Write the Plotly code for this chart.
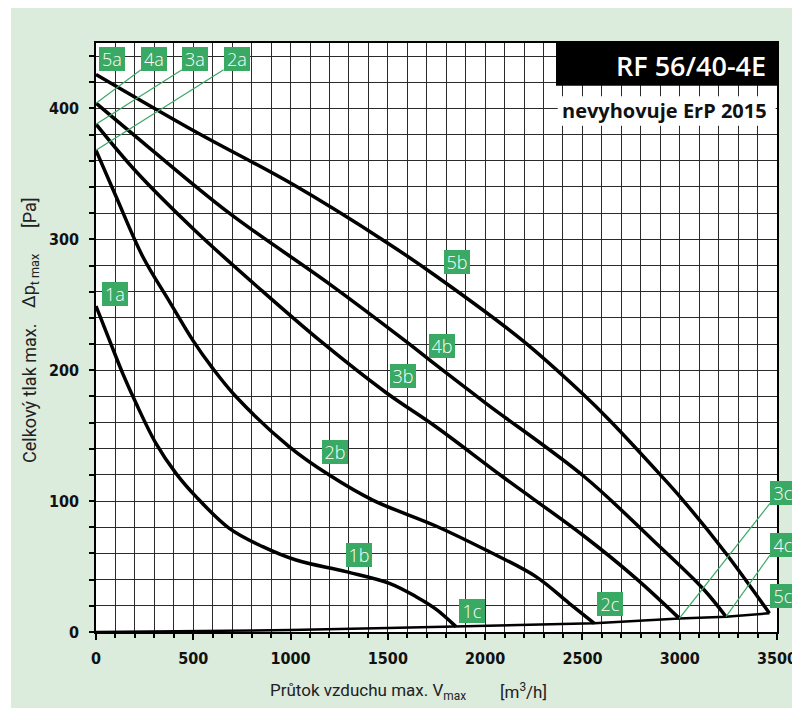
import plotly.graph_objects as go

# ---------------- data ----------------
c1_x = [0, 69, 137, 206, 308, 411, 514, 685, 857, 1028, 1285, 1508, 1645, 1747, 1850]
c1_y = [249, 223, 197.6, 174.7, 144.1, 121.2, 103.4, 79.2, 65.2, 55, 46.1, 37.2, 27, 17.5, 4.1]

c2_x = [0, 103, 240, 377, 497, 600, 720, 994, 1199, 1422, 1747, 2004, 2261, 2432, 2561]
c2_y = [368, 332.7, 286.9, 252.6, 223, 201.4, 179.7, 141.5, 119.9, 100.8, 81, 62.6, 42.3, 21.9, 6.6]

c3_x = [0, 206, 514, 857, 1156, 1490, 1747, 2090, 2501, 2775, 2998]
c3_y = [388, 351.8, 306, 260.2, 222, 183, 156.8, 118.6, 74.1, 41, 10.4]

c4_x = [0, 257, 685, 1199, 1593, 1747, 2004, 2510, 2861, 3118, 3238]
c4_y = [404, 372, 320, 266, 222, 204, 174.7, 118.6, 70.3, 33.4, 11.7]

c5_x = [0, 514, 1011, 1490, 1747, 2190, 2501, 2638, 2895, 3015, 3238, 3461]
c5_y = [426, 382, 342, 298, 272, 223, 182, 162, 121, 101, 60, 14.3]

sys_x = [0, 500, 1000, 1500, 1850, 2561, 2998, 3238, 3461]
sys_y = [0, 0.5, 1.5, 3, 4.1, 6.6, 10.4, 11.7, 14.3]

# green leader lines (label corner -> curve end)
lead_4a_x = [231, 0]
lead_4a_y = [429.5, 404]
lead_3a_x = [442, 0]
lead_3a_y = [429.5, 388]
lead_2a_x = [656, 0]
lead_2a_y = [429.5, 368]
lead_3c_x = [2998, 3464]
lead_3c_y = [10.4, 98.3]
lead_4c_x = [3238, 3464]
lead_4c_y = [11.7, 58.8]

# curve labels
lab_text = ["5a", "4a", "3a", "2a", "1a", "1b", "2b", "3b", "4b", "5b", "1c", "2c", "3c", "4c", "5c"]
lab_x = [84, 300, 510, 723, 96, 1353, 1226, 1576, 1778, 1854, 1931, 2640, 3464, 3464, 3464]
lab_y = [438, 438, 438, 438, 258, 58.8, 137.7, 195.8, 218.4, 282.6, 16, 21.4, 106, 66.4, 27.6]
lab_anchor = ["center"] * 12 + ["left"] * 3

x_tickvals = [0, 500, 1000, 1500, 2000, 2500, 3000, 3500]
y_tickvals = [0, 100, 200, 300, 400]

title_text = "RF 56/40-4E"
subtitle_text = "nevyhovuje ErP 2015"
x_title_a = "Průtok vzduchu max. V<sub>max</sub>"
x_title_b = "[m<sup>3</sup>/h]"
y_title_a = "Celkový tlak max."
y_title_b = "Δp<sub>t max</sub>"
y_title_c = "[Pa]"

# ---------------- styling ----------------
GREEN = "#3aa964"
BG = "#dbebdc"
GRID = "#2a2a2a"
TICKFONT = dict(family="DejaVu Sans Condensed, Liberation Sans Narrow, sans-serif",
                size=16, color="#111111", weight="bold")
TITLEFONT = dict(family="Liberation Sans Narrow, Roboto, sans-serif", size=18, color="#222222")
XTITLEFONT = dict(family="Liberation Sans Narrow, Roboto, sans-serif", size=17, color="#222222")

fig = go.Figure()

for xs, ys in [(c1_x, c1_y), (c2_x, c2_y), (c3_x, c3_y), (c4_x, c4_y), (c5_x, c5_y)]:
    fig.add_trace(go.Scatter(x=xs, y=ys, mode="lines",
                             line=dict(color="black", width=3.5, shape="spline", smoothing=1.0),
                             hoverinfo="skip", showlegend=False))

fig.add_trace(go.Scatter(x=sys_x, y=sys_y, mode="lines",
                         line=dict(color="black", width=2.5),
                         hoverinfo="skip", showlegend=False))

for xs, ys in [(lead_4a_x, lead_4a_y), (lead_3a_x, lead_3a_y), (lead_2a_x, lead_2a_y),
               (lead_3c_x, lead_3c_y), (lead_4c_x, lead_4c_y)]:
    fig.add_trace(go.Scatter(x=xs, y=ys, mode="lines",
                             line=dict(color=GREEN, width=1.2),
                             hoverinfo="skip", showlegend=False))

annotations = []
for t, x, y, a in zip(lab_text, lab_x, lab_y, lab_anchor):
    annotations.append(dict(x=x, y=y, xref="x", yref="y", text=t, showarrow=False,
                            xanchor=a, yanchor="middle", width=26, height=24,
                            bgcolor=GREEN, borderpad=0, borderwidth=0,
                            font=dict(family="Open Sans, Noto Sans, sans-serif", size=18,
                                      color="white", weight=300)))

# title boxes
annotations.append(dict(x=0.9868, y=0.9615, xref="paper", yref="paper", text=title_text,
                        showarrow=False, xanchor="right", yanchor="middle",
                        font=dict(family="Open Sans, sans-serif", size=27, color="white", weight=600)))
annotations.append(dict(x=0.988, y=0.8846, xref="paper", yref="paper", text=subtitle_text,
                        showarrow=False, xanchor="right", yanchor="middle",
                        font=dict(family="Open Sans, sans-serif", size=20, color="#111111", weight="bold")))

# axis titles
annotations.append(dict(x=0.2526, y=-0.1002, xref="paper", yref="paper", text=x_title_a,
                        showarrow=False, xanchor="left", yanchor="middle", font=XTITLEFONT))
annotations.append(dict(x=0.5903, y=-0.1002, xref="paper", yref="paper", text=x_title_b,
                        showarrow=False, xanchor="left", yanchor="middle", font=XTITLEFONT))
for t, yp in [(y_title_a, 0.4058), (y_title_b, 0.5959), (y_title_c, 0.7114)]:
    annotations.append(dict(x=-0.0969, y=yp, xref="paper", yref="paper", text=t,
                            showarrow=False, xanchor="center", yanchor="middle",
                            textangle=-90, font=TITLEFONT))

shapes = [
    # thin white strip at the left edge
    dict(type="rect", xref="paper", yref="paper", x0=-0.14, x1=-0.1248, y0=-0.2, y1=1.1,
         fillcolor="white", line=dict(width=0), layer="below"),
    # black title box
    dict(type="rect", xref="paper", yref="paper", x0=0.6755, x1=1.0, y0=0.9275, y1=1.0,
         fillcolor="black", line=dict(width=0), layer="above"),
    # white subtitle box
    dict(type="rect", xref="paper", yref="paper", x0=0.678, x1=0.998, y0=0.8596, y1=0.9095,
         fillcolor="white", line=dict(width=0), layer="above"),
]

fig.update_layout(
    width=800, height=708,
    margin=dict(l=88, r=31, t=35, b=84),
    paper_bgcolor=BG, plot_bgcolor="white",
    showlegend=False,
    annotations=annotations,
    shapes=shapes,
    xaxis=dict(range=[0, 3500], tickmode="array", tickvals=x_tickvals,
               showgrid=True, gridcolor=GRID, gridwidth=1,
               ticks="outside", ticklen=6, tickcolor="black", tickwidth=1.5,
               tickfont=TICKFONT, ticklabelstandoff=5,
               showline=True, linecolor="black", linewidth=1.5, mirror=True,
               zeroline=False,
               minor=dict(dtick=100, tick0=0, showgrid=True, gridcolor=GRID, gridwidth=1,
                          ticks="outside", ticklen=4, tickcolor="black")),
    yaxis=dict(range=[0, 450], tickmode="array", tickvals=y_tickvals,
               showgrid=True, gridcolor=GRID, gridwidth=1,
               ticks="outside", ticklen=5, tickcolor="black", tickwidth=1.5,
               tickfont=TICKFONT, ticklabelstandoff=7,
               showline=True, linecolor="black", linewidth=1.5, mirror=True,
               zeroline=False,
               minor=dict(dtick=20, tick0=0, showgrid=True, gridcolor=GRID, gridwidth=1,
                          ticks="outside", ticklen=5, tickcolor="black")),
)

fig.write_html("out.html")
